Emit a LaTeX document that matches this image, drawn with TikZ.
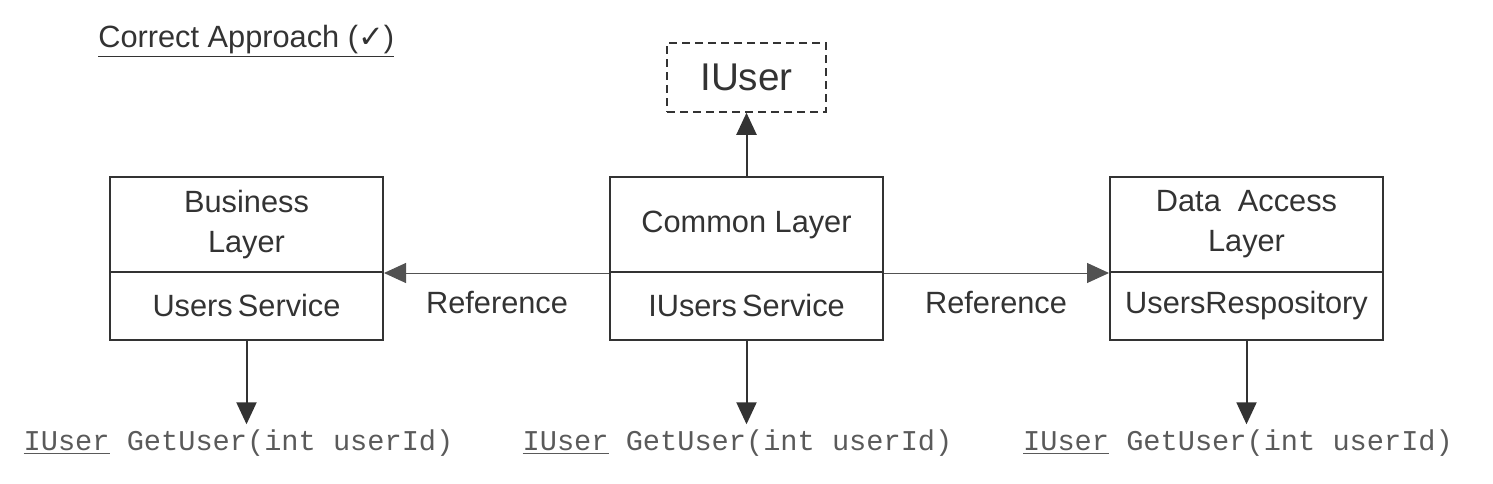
\documentclass[tikz,border=0pt]{standalone}
\usepackage{fontspec}
\setmainfont{Liberation Sans}
\setmonofont{Liberation Mono}
\newfontfamily\symfont{DejaVu Sans}
\usetikzlibrary{arrows.meta,positioning}
\definecolor{ink}{HTML}{333333}
\definecolor{codeink}{HTML}{5A5A5A}

\begin{document}
\begin{tikzpicture}
\tikzstyle{every node}=[font=\fontsize{17.5pt}{22.7pt}\selectfont, text=ink]
\tikzstyle{layer}=[draw=ink, line width=0.04cm, minimum width=5.46cm, minimum height=1.9cm, align=center, inner sep=0pt]
\tikzstyle{part}=[layer, minimum height=1.36cm]
\tikzstyle{code}=[font=\ttfamily\fontsize{16.3pt}{19pt}\selectfont, text=codeink, inner xsep=0pt, inner ysep=0.1cm]
\tikzstyle{link}=[draw=ink, line width=0.04cm, -{Triangle[length=0.44cm,width=0.4cm]}]
\tikzstyle{ref}=[draw=ink!85, line width=0.02cm, -{Triangle[length=0.44cm,width=0.4cm]}]
\useasboundingbox (0,0) rectangle (29.86,9.66);
\node [anchor=west, inner xsep=0pt] (title) at (1.96,8.84) {\underline{Correct Approach ({\symfont ✓})}};
% layers
\node [layer] (bl-top) at (4.93,5.17) {Business\\Layer};
\node [part, below=-0.04cm of bl-top] (bl-bot) {Users\,Service};
\node [layer] (cl-top) at (14.93,5.17) {Common Layer};
\node [part, below=-0.04cm of cl-top] (cl-bot) {IUsers\,Service};
\node [layer] (dl-top) at (24.93,5.17) {Data\ \ Access\\Layer};
\node [part, below=-0.04cm of dl-top] (dl-bot) {UsersRespository};
\node [draw=ink, dash pattern=on 0.16cm off 0.1cm, line width=0.03cm, minimum width=3.18cm, minimum height=1.38cm, font=\fontsize{22pt}{26pt}\selectfont] (iuser) at (14.93,8.11) {IUser};
% methods
\node [code] (bl-code) at (4.77,0.8) {\underline{IUser} GetUser(int userId)};
\node [code] (cl-code) at (14.75,0.8) {\underline{IUser} GetUser(int userId)};
\node [code] (dl-code) at (24.76,0.8) {\underline{IUser} GetUser(int userId)};
\node (ref-l) at (9.94,3.6) {Reference};
\node (ref-r) at (19.92,3.6) {Reference};
% connectors
\draw [link] (cl-top.north) -- (iuser.south);
\draw [ref] (cl-top.south west) -- (bl-top.south east);
\draw [ref] (cl-top.south east) -- (dl-top.south west);
\draw [link] (bl-bot.south) -- (bl-bot.south |- bl-code.north);
\draw [link] (cl-bot.south) -- (cl-bot.south |- cl-code.north);
\draw [link] (dl-bot.south) -- (dl-bot.south |- dl-code.north);
\end{tikzpicture}
\end{document}
